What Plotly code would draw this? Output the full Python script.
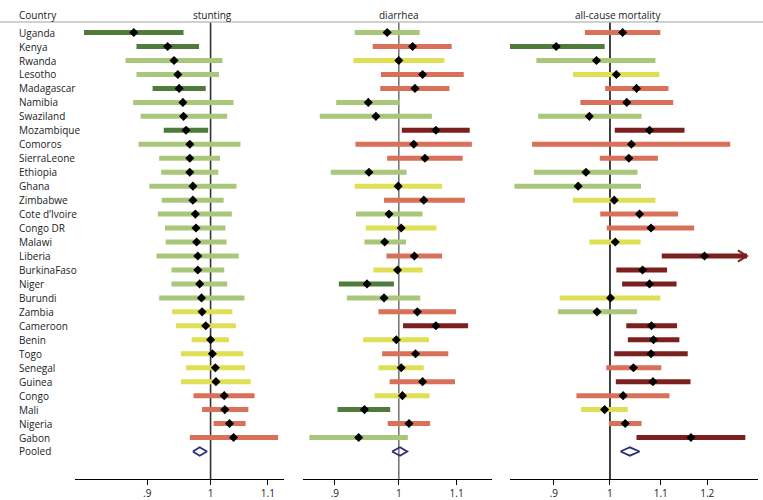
import math
import plotly.graph_objects as go

countries = ["Uganda", "Kenya", "Rwanda", "Lesotho", "Madagascar", "Namibia", "Swaziland",
             "Mozambique", "Comoros", "SierraLeone", "Ethiopia", "Ghana", "Zimbabwe",
             "Cote d’Ivoire", "Congo DR", "Malawi", "Liberia", "BurkinaFaso", "Niger",
             "Burundi", "Zambia", "Cameroon", "Benin", "Togo", "Senegal", "Guinea",
             "Congo", "Mali", "Nigeria", "Gabon"]

# stunting
stunt_est = [0.880, 0.931, 0.941, 0.947, 0.949, 0.955, 0.956, 0.960, 0.966, 0.966,
             0.966, 0.971, 0.971, 0.975, 0.976, 0.977, 0.979, 0.979, 0.982, 0.985,
             0.986, 0.992, 1.000, 1.003, 1.008, 1.009, 1.023, 1.024, 1.032, 1.039]
stunt_lo = [0.810, 0.884, 0.868, 0.884, 0.908, 0.879, 0.890, 0.925, 0.887, 0.918,
            0.921, 0.903, 0.922, 0.916, 0.927, 0.928, 0.914, 0.937, 0.937, 0.918,
            0.938, 0.944, 0.969, 0.952, 0.960, 0.952, 0.972, 0.986, 1.005, 0.966]
stunt_hi = [0.956, 0.981, 1.020, 1.014, 0.992, 1.039, 1.028, 0.996, 1.051, 1.016,
            1.013, 1.044, 1.022, 1.036, 1.025, 1.027, 1.048, 1.023, 1.028, 1.058,
            1.037, 1.043, 1.031, 1.056, 1.059, 1.069, 1.076, 1.065, 1.060, 1.119]
stunt_cat = ["dg", "dg", "lg", "lg", "dg", "lg", "lg", "dg", "lg", "lg",
             "lg", "lg", "lg", "lg", "lg", "lg", "lg", "lg", "lg", "lg",
             "y", "y", "y", "y", "y", "y", "s", "s", "s", "s"]
stunt_pooled = [0.971, 0.982, 0.994]

# diarrhea
diar_est = [0.981, 1.023, 1.000, 1.040, 1.027, 0.951, 0.963, 1.063, 1.025, 1.044,
            0.952, 0.999, 1.042, 0.984, 1.004, 0.977, 1.026, 0.998, 0.949, 0.976,
            1.031, 1.063, 0.996, 1.028, 1.004, 1.040, 1.006, 0.945, 1.017, 0.936]
diar_lo = [0.930, 0.958, 0.928, 0.971, 0.970, 0.902, 0.878, 1.005, 0.931, 0.981,
           0.894, 0.930, 0.976, 0.932, 0.947, 0.945, 0.980, 0.959, 0.906, 0.918,
           0.967, 1.007, 0.943, 0.973, 0.967, 0.985, 0.961, 0.904, 0.982, 0.863]
diar_hi = [1.035, 1.091, 1.078, 1.113, 1.087, 1.001, 1.056, 1.124, 1.128, 1.111,
           1.013, 1.074, 1.115, 1.040, 1.064, 1.012, 1.074, 1.040, 0.992, 1.036,
           1.099, 1.121, 1.051, 1.085, 1.042, 1.097, 1.052, 0.986, 1.053, 1.015]
diar_cat = ["lg", "s", "y", "s", "s", "lg", "lg", "dr", "s", "s",
            "lg", "y", "s", "lg", "y", "lg", "s", "y", "dg", "lg",
            "s", "dr", "y", "s", "y", "s", "y", "dg", "s", "lg"]
diar_pooled = [0.989, 1.002, 1.014]

# all-cause mortality
mort_est = [1.024, 0.904, 0.975, 1.012, 1.051, 1.032, 0.962, 1.077, 1.041, 1.036,
            0.956, 0.942, 1.008, 1.057, 1.080, 1.010, 1.194, 1.063, 1.077, 1.001,
            0.976, 1.081, 1.085, 1.080, 1.045, 1.084, 1.025, 0.990, 1.029, 1.164]
mort_lo = [0.954, 0.825, 0.871, 0.933, 0.991, 0.946, 0.874, 1.009, 0.864, 0.981,
           0.867, 0.836, 0.933, 0.982, 0.994, 0.962, 1.102, 1.012, 1.023, 0.910,
           0.907, 1.031, 1.034, 1.008, 0.993, 1.011, 0.939, 0.947, 0.998, 1.051]
mort_hi = [1.099, 0.990, 1.089, 1.097, 1.116, 1.126, 1.061, 1.150, 1.253, 1.094,
           1.053, 1.060, 1.089, 1.136, 1.171, 1.059, 1.293, 1.113, 1.133, 1.099,
           1.052, 1.134, 1.139, 1.157, 1.101, 1.163, 1.118, 1.034, 1.061, 1.289]
mort_cat = ["s", "dg", "lg", "y", "s", "s", "lg", "dr", "s", "s",
            "lg", "lg", "y", "s", "s", "y", "dr", "dr", "dr", "y",
            "lg", "dr", "dr", "dr", "s", "dr", "s", "y", "s", "dr"]
mort_pooled = [1.020, 1.038, 1.057]
mort_arrow = ["Liberia"]  # CI truncated at axis edge

panel_titles = ["stunting", "diarrhea", "all-cause mortality"]
tick_vals = [[0.9, 1.0, 1.1], [0.9, 1.0, 1.1], [0.9, 1.0, 1.1, 1.2]]
tick_text = [[".9", "1", "1.1"], [".9", "1", "1.1"], [".9", "1", "1.1", "1.2"]]

COLORS = {"dg": "#4f7b3b", "lg": "#a9c77a", "y": "#dfdf55", "s": "#d9705a", "dr": "#7b1f1f"}
W, H = 763, 500
FONT = "Open Sans, Lato, sans-serif"
FS = 10

# geometry (pixels)
row0, drow = 32.7, 14.02
axis_px = 481.0
header_px = 22.0
ydom_bottom = (H - axis_px) / H
yr_top = (0 - row0) / drow
yr_bot = (axis_px - row0) / drow
ref_top = (header_px - row0) / drow

panel_px = [(75, 284), (303, 492), (510, 758)]
panel_range = [(0.798, 1.130), (0.854, 1.166), (0.829, 1.320)]
ref_colors = ["#333333", "#777777", "#111111"]

panels = [
    (stunt_est, stunt_lo, stunt_hi, stunt_cat, stunt_pooled),
    (diar_est, diar_lo, diar_hi, diar_cat, diar_pooled),
    (mort_est, mort_lo, mort_hi, mort_cat, mort_pooled),
]

fig = go.Figure()
n = len(countries)
for p, (est, lo, hi, cat, pooled) in enumerate(panels):
    xa = "x" if p == 0 else f"x{p+1}"
    # reference line at 1
    fig.add_trace(go.Scatter(x=[1, 1], y=[ref_top, yr_bot + 0.4], mode="lines",
                             line=dict(color=ref_colors[p], width=1.6),
                             xaxis=xa, yaxis="y", hoverinfo="skip", showlegend=False,
                             cliponaxis=False))
    for c in ["dg", "lg", "y", "s", "dr"]:
        xs, ys = [], []
        for i in range(n):
            if cat[i] == c:
                xs += [lo[i], hi[i], None]
                ys += [i, i, None]
        if xs:
            fig.add_trace(go.Scatter(x=xs, y=ys, mode="lines",
                                     line=dict(color=COLORS[c], width=5),
                                     xaxis=xa, yaxis="y", hoverinfo="skip",
                                     showlegend=False, cliponaxis=False))
    fig.add_trace(go.Scatter(x=est, y=list(range(n)), mode="markers",
                             marker=dict(symbol="diamond", color="black", size=7),
                             xaxis=xa, yaxis="y", text=countries, showlegend=False,
                             cliponaxis=False))
    # pooled diamond
    plo, pm, phi = pooled
    yi = n
    fig.add_trace(go.Scatter(x=[plo, pm, phi, pm, plo], y=[yi, yi - 0.3, yi, yi + 0.3, yi],
                             mode="lines", line=dict(color="#2d2d7d", width=1.8),
                             xaxis=xa, yaxis="y", hoverinfo="skip", showlegend=False,
                             cliponaxis=False))

# arrowhead for truncated CI (mortality panel)
for name in mort_arrow:
    i = countries.index(name)
    tip = mort_hi[i]
    back = tip * math.exp(-9 / 532)
    fig.add_trace(go.Scatter(x=[back, tip, back], y=[i - 0.4, i, i + 0.4], mode="lines",
                             line=dict(color=COLORS["dr"], width=2),
                             xaxis="x3", yaxis="y", hoverinfo="skip", showlegend=False,
                             cliponaxis=False))

layout = dict(
    width=W, height=H, margin=dict(l=0, r=0, t=0, b=0),
    plot_bgcolor="white", paper_bgcolor="white",
    font=dict(family=FONT, size=FS, color="#222"),
    showlegend=False,
    yaxis=dict(domain=[ydom_bottom, 1], range=[yr_bot, yr_top], visible=False,
               fixedrange=True),
)
for p in range(3):
    key = "xaxis" if p == 0 else f"xaxis{p+1}"
    x0, x1 = panel_px[p]
    r0, r1 = panel_range[p]
    layout[key] = dict(
        type="log", domain=[x0 / W, x1 / W], range=[math.log10(r0), math.log10(r1)],
        anchor="y", showline=True, linecolor="black", linewidth=1.2,
        ticks="outside", ticklen=5, tickcolor="black", tickwidth=1.2,
        tickvals=tick_vals[p], ticktext=tick_text[p], showgrid=False, zeroline=False,
        tickfont=dict(size=FS, family=FONT, color="#222"),
    )
fig.update_layout(**layout)

annotations = []
for i, name in enumerate(countries + ["Pooled"]):
    annotations.append(dict(x=17 / W, y=i, xref="paper", yref="y", text=name,
                            showarrow=False, xanchor="left", yanchor="middle",
                            font=dict(size=FS, family=FONT, color="#222")))
annotations.append(dict(x=17 / W, y=(H - 15) / H, xref="paper", yref="paper", text="Country",
                        showarrow=False, xanchor="left", yanchor="middle",
                        font=dict(size=FS, family=FONT, color="#222")))
title_x = [213, 399, 618]
for p in range(3):
    annotations.append(dict(x=title_x[p] / W, y=(H - 15) / H, xref="paper", yref="paper",
                            text=panel_titles[p], showarrow=False, xanchor="center",
                            yanchor="middle", font=dict(size=FS, family=FONT, color="#222")))
fig.update_layout(annotations=annotations)
fig.add_shape(type="line", xref="paper", yref="paper", x0=0, x1=1,
              y0=(H - header_px) / H, y1=(H - header_px) / H,
              line=dict(color="#c0c0c0", width=1.5))

fig.write_html("out.html", config={"displayModeBar": False},
               post_script="document.body.style.margin='0';document.body.style.overflow='hidden';")
